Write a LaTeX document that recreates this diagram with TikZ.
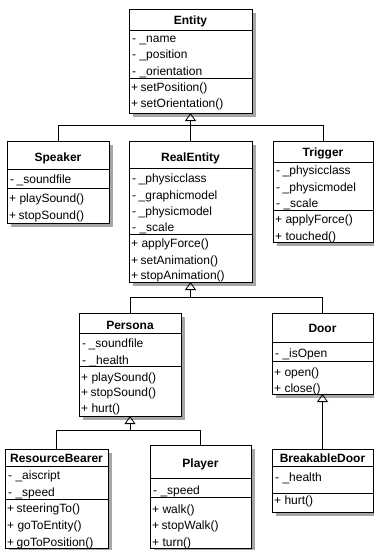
\documentclass[tikz,border=0pt]{standalone}
\usepackage{fontspec}
\setmainfont{Liberation Sans}
\usetikzlibrary{arrows.meta,fit}
\tikzset{
  cls/.style={draw, line width=0.8pt, fill=white, inner sep=0pt, outer sep=0pt},
  shadowfill/.style={fill=black!35},
  sepline/.style={line width=0.8pt},
  rowt/.style={anchor=base west, inner sep=0pt, font=\fontsize{12}{14}\selectfont},
  ttl/.style={anchor=base, inner sep=0pt, font=\fontsize{12}{14}\selectfont\bfseries},
  conn/.style={line width=0.8pt},
  inh/.style={conn, -{Triangle[open, width=11pt, length=8pt]}},
}
\newcommand\umlcls[7]{%
  \fill[shadowfill] (#2+4,#3+4) rectangle (#4+4,#5+4);
  \node[cls, fit={(#2,#3) (#4,#5)}] (#1) {};
  \draw[sepline] (#2,#6) -- (#4,#6);
  \draw[sepline] (#2,#7) -- (#4,#7);
}
\newcommand\xs{\hspace{2.5pt}}
\begin{document}
\begin{tikzpicture}[x=1pt,y=-1pt]
\useasboundingbox (0,0) rectangle (374,550);
\fill[white] (0,0) rectangle (374,550);

% ---------- classes ----------
\umlcls{entity}{129}{9}{252}{113}{30}{78}
\node[ttl] (entity-t) at (190.5,24) {Entity};
\node[rowt] (entity-a1) at (132,42) {- \_name};
\node[rowt] (entity-a2) at (132,58) {- \_position};
\node[rowt] (entity-a3) at (132,75) {- \_orientation};
\node[rowt] (entity-m1) at (131,91) {+\xs setPosition()};
\node[rowt] (entity-m2) at (131,107) {+\xs setOrientation()};

\umlcls{speaker}{7}{141}{109}{223}{169}{188}
\node[ttl] (speaker-t) at (58,161) {Speaker};
\node[rowt] (speaker-a1) at (10,183) {-\xs\_soundfile};
\node[rowt] (speaker-m1) at (9,202) {+ playSound()};
\node[rowt] (speaker-m2) at (9,219) {+\xs stopSound()};

\umlcls{realentity}{129}{141}{252}{282}{168}{234}
\node[ttl] (realentity-t) at (190.5,161) {RealEntity};
\node[rowt] (realentity-a1) at (132,182) {-\xs\_physicclass};
\node[rowt] (realentity-a2) at (132,199) {-\xs\_graphicmodel};
\node[rowt] (realentity-a3) at (132,215) {-\xs\_physicmodel};
\node[rowt] (realentity-a4) at (132,231) {- \_scale};
\node[rowt] (realentity-m1) at (131,247) {+ applyForce()};
\node[rowt] (realentity-m2) at (131,264) {+\xs setAnimation()};
\node[rowt] (realentity-m3) at (131,279) {+\xs stopAnimation()};

\umlcls{trigger}{273}{141}{373}{242}{162}{210}
\node[ttl] (trigger-t) at (323,156) {Trigger};
\node[rowt] (trigger-a1) at (276,174) {-\xs\_physicclass};
\node[rowt] (trigger-a2) at (276,191) {-\xs\_physicmodel};
\node[rowt] (trigger-a3) at (276,207) {- \_scale};
\node[rowt] (trigger-m1) at (275,223) {+ applyForce()};
\node[rowt] (trigger-m2) at (275,240) {+ touched()};

\umlcls{persona}{79}{313}{181}{416}{333}{366}
\node[ttl] (persona-t) at (130,329) {Persona};
\node[rowt] (persona-a1) at (82,347) {-\xs\_soundfile};
\node[rowt] (persona-a2) at (82,364) {- \_health};
\node[rowt] (persona-m1) at (81,381) {+ playSound()};
\node[rowt] (persona-m2) at (81,396) {+\xs stopSound()};
\node[rowt] (persona-m3) at (81,412) {+ hurt()};

\umlcls{door}{272}{313}{373}{394}{342}{361}
\node[ttl] (door-t) at (322.5,332) {Door};
\node[rowt] (door-a1) at (275,357) {- \_isOpen};
\node[rowt] (door-m1) at (274,376) {+ open()};
\node[rowt] (door-m2) at (274,392) {+ close()};

\umlcls{bearer}{5}{449}{108}{548}{466}{499}
\node[ttl] (bearer-t) at (56.5,462) {ResourceBearer};
\node[rowt] (bearer-a1) at (8,479) {- \_aiscript};
\node[rowt] (bearer-a2) at (8,496) {- \_speed};
\node[rowt] (bearer-m1) at (7,512) {+\xs steeringTo()};
\node[rowt] (bearer-m2) at (7,529) {+ goToEntity()};
\node[rowt] (bearer-m3) at (7,546) {+\xs goToPosition()};

\umlcls{player}{150}{445}{251}{548}{478}{497}
\node[ttl] (player-t) at (200.5,467) {Player};
\node[rowt] (player-a1) at (153,494) {- \_speed};
\node[rowt] (player-m1) at (152,513) {+ walk()};
\node[rowt] (player-m2) at (152,529) {+\xs stopWalk()};
\node[rowt] (player-m3) at (152,546) {+ turn()};

\umlcls{bdoor}{272}{449}{373}{512}{466}{493}
\node[ttl] (bdoor-t) at (322.5,462) {BreakableDoor};
\node[rowt] (bdoor-a1) at (275,481) {- \_health};
\node[rowt] (bdoor-m1) at (274,504) {+ hurt()};

% ---------- inheritance ----------
\coordinate (j1) at (190.5,125);
\draw[conn] (speaker.north) |- (j1);
\draw[conn] (trigger.north) |- (j1);
\draw[conn] (realentity.north) -- (j1);
\draw[inh] (j1) -- (entity.south);

\coordinate (j2) at (190.5,297);
\draw[conn] (persona.north) |- (j2);
\draw[conn] (door.north) |- (j2);
\draw[inh] (j2) -- (realentity.south);

\coordinate (j3) at (130,430);
\draw[conn] (bearer.north) |- (j3);
\draw[conn] (player.north) |- (j3);
\draw[inh] (j3) -- (persona.south);

\draw[inh] (bdoor.north) -- (door.south);
\end{tikzpicture}
\end{document}
